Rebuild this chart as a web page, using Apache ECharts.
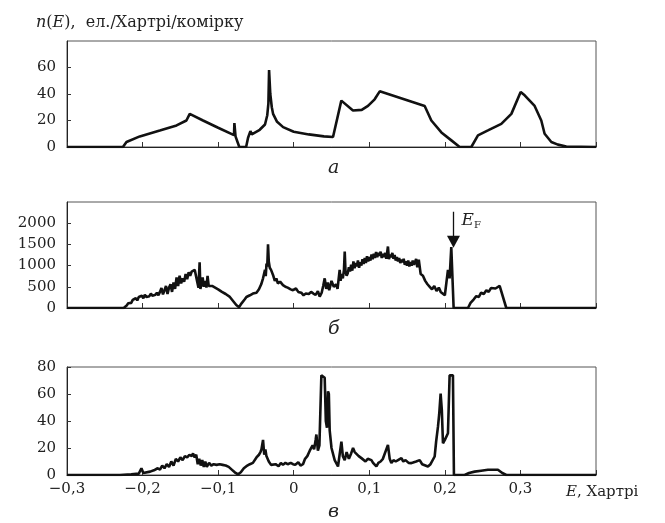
<!DOCTYPE html>
<html>
<head>
<meta charset="utf-8">
<script src="https://cdn.jsdelivr.net/npm/echarts@6/dist/echarts.min.js"></script>
<style>html,body{margin:0;padding:0;background:#fff}#c{width:665px;height:523px}</style>
</head>
<body>
<div id="c"></div>
<script>
// ---------- data ----------
const energyA = [-0.3,-0.226,-0.2213,-0.2037,-0.1772,-0.155,-0.142,-0.1376,-0.12,-0.1,-0.079,-0.0785,-0.077,-0.072,-0.063,-0.0604,-0.0585,-0.0573,-0.0555,-0.0538,-0.045,-0.038,-0.035,-0.0335,-0.0326,-0.031,-0.029,-0.0273,-0.022,-0.014,0,0.02,0.04,0.052,0.0529,0.063,0.0784,0.09,0.0983,0.1071,0.1138,0.1733,0.1821,0.1954,0.2086,0.2196,0.235,0.2438,0.257,0.2747,0.288,0.3003,0.3056,0.3188,0.3276,0.332,0.3409,0.3496,0.3607,0.4];
const dosA    = [0,0,3.8,8,12.5,16.3,20,25,20,14.5,9,18,8,0,0,7,7.5,12,9.5,9,13,17,24,33,58,40,30,25,19,15,11.5,9.5,8,7.5,7.5,35,27.5,28,31,36,42,31,20,11,5,0,0,8.8,12.5,17.5,25,41.5,39,31,20,10,3.8,1.8,0.4,0];

const energyB = [-0.3,-0.225,-0.221,-0.219,-0.217,-0.215,-0.213,-0.211,-0.209,-0.207,-0.205,-0.203,-0.201,-0.199,-0.197,-0.195,-0.193,-0.191,-0.189,-0.187,-0.185,-0.183,-0.181,-0.179,-0.177,-0.175,-0.173,-0.171,-0.169,-0.167,-0.165,-0.163,-0.161,-0.159,-0.157,-0.155,-0.153,-0.151,-0.149,-0.147,-0.145,-0.143,-0.141,-0.139,-0.137,-0.135,-0.133,-0.131,-0.129,-0.1275,-0.126,-0.1245,-0.1235,-0.122,-0.1205,-0.119,-0.117,-0.1155,-0.114,-0.1125,-0.111,-0.108,-0.104,-0.1,-0.095,-0.09,-0.085,-0.08,-0.076,-0.0724,-0.069,-0.065,-0.0626,-0.058,-0.054,-0.0493,-0.046,-0.043,-0.0406,-0.038,-0.037,-0.036,-0.035,-0.034,-0.033,-0.0317,-0.03,-0.027,-0.025,-0.023,-0.021,-0.018,-0.0142,-0.011,-0.008,-0.004,-0.001,0.003,0.006,0.01,0.013,0.016,0.02,0.023,0.026,0.029,0.032,0.0344,0.037,0.039,0.041,0.043,0.045,0.047,0.05,0.053,0.056,0.058,0.0608,0.062,0.0635,0.065,0.0665,0.0675,0.0685,0.07,0.0715,0.073,0.0745,0.076,0.0775,0.079,0.0805,0.082,0.0835,0.085,0.0865,0.088,0.0895,0.091,0.0925,0.094,0.0955,0.097,0.0985,0.1,0.1015,0.103,0.1045,0.106,0.1075,0.109,0.1105,0.112,0.1135,0.115,0.1165,0.118,0.1195,0.121,0.1225,0.1247,0.126,0.1275,0.129,0.1305,0.132,0.1335,0.135,0.1365,0.138,0.1395,0.141,0.1425,0.144,0.1455,0.147,0.1485,0.15,0.1515,0.153,0.1545,0.156,0.1575,0.159,0.1605,0.162,0.1635,0.1655,0.1667,0.168,0.171,0.174,0.177,0.18,0.183,0.186,0.189,0.192,0.1945,0.197,0.2,0.202,0.2041,0.2063,0.2085,0.2099,0.2116,0.2306,0.234,0.238,0.2416,0.245,0.248,0.2515,0.2549,0.258,0.261,0.2636,0.267,0.2725,0.2813,0.4];
const dosB    = [0,0,60,110,150,120,190,150,230,180,260,220,290,230,310,260,300,280,340,290,330,310,360,300,380,470,320,420,520,330,480,560,380,600,450,720,520,760,580,700,620,800,680,840,760,860,820,900,880,600,480,1080,450,580,720,500,640,480,760,520,560,520,480,440,380,330,270,160,70,20,110,200,260,300,340,360,440,560,700,900,750,1050,980,1500,1100,950,900,760,640,700,580,620,540,500,480,440,420,460,380,360,300,340,330,380,340,310,400,270,360,520,700,450,600,420,640,500,560,450,900,640,800,700,900,1330,880,760,820,960,860,1020,880,1100,940,1060,980,1120,950,1080,1000,1150,1040,1180,1060,1220,1100,1200,1120,1260,1150,1280,1180,1320,1200,1300,1230,1330,1180,1280,1200,1300,1160,1450,1150,1260,1200,1300,1160,1250,1120,1200,1100,1180,1060,1140,1080,1160,1020,1100,1000,1120,980,1080,1000,1120,1020,1080,1160,960,1140,1100,800,760,640,560,500,440,520,400,480,380,420,300,270,900,700,1440,1440,0,0,120,200,280,260,360,330,420,380,470,500,460,520,0,0];

const energyC = [-0.3,-0.23,-0.215,-0.205,-0.2015,-0.199,-0.19,-0.185,-0.18,-0.177,-0.174,-0.171,-0.168,-0.165,-0.162,-0.159,-0.156,-0.153,-0.15,-0.147,-0.144,-0.141,-0.138,-0.135,-0.1332,-0.131,-0.129,-0.127,-0.125,-0.123,-0.121,-0.119,-0.117,-0.115,-0.112,-0.109,-0.106,-0.102,-0.098,-0.094,-0.09,-0.086,-0.082,-0.078,-0.0737,-0.07,-0.066,-0.0626,-0.058,-0.054,-0.0493,-0.046,-0.044,-0.0427,-0.0406,-0.039,-0.0375,-0.0361,-0.033,-0.03,-0.0274,-0.024,-0.02,-0.017,-0.0142,-0.011,-0.008,-0.004,-0.0009,0.002,0.006,0.009,0.0123,0.015,0.018,0.0212,0.023,0.025,0.027,0.029,0.03,0.032,0.034,0.0366,0.039,0.041,0.0425,0.044,0.0454,0.0465,0.0476,0.05,0.0542,0.0586,0.0631,0.065,0.0675,0.07,0.073,0.076,0.0785,0.0807,0.083,0.086,0.0896,0.092,0.095,0.098,0.1028,0.105,0.1094,0.112,0.115,0.118,0.1247,0.127,0.1292,0.132,0.135,0.138,0.1425,0.145,0.148,0.152,0.1557,0.159,0.162,0.1667,0.17,0.1776,0.181,0.1865,0.1885,0.1909,0.1925,0.1944,0.196,0.1975,0.2,0.2041,0.2063,0.2107,0.212,0.2262,0.232,0.2394,0.248,0.257,0.2702,0.276,0.2813,0.4];
const dosC    = [0,0,0.5,1,5,1.5,2.5,3.5,5,4,7,5,8,6,10,7,12,10,13,11,14,13,15,14,16,13,15,8,12,7,11,6,10,6,9,7,8,7.5,8,7.5,7,6,4,2,0.5,2,5,6.5,8,9,13,15,17,19,26,15,19,14,10,7.5,6.5,8,6.5,9,7.5,9,8,9,8,7.5,9.5,7,8,12,14,18,17,22,19,26,30,18,22,73.8,73.8,72,40,35,62,60,33,20,11,6.3,24.7,14,11,17,12,16,20,17,16,14,12.5,13,10,12,11,9,6.3,9,10,12,22.3,12,8.8,11,10,11,12.5,10,11,9,8.8,9.5,10,11,8,6.3,8,13.7,25,35.8,45,60.3,48,23.5,26,30.9,73.8,73.8,0,0,1.5,2.5,3.2,3.9,3.9,1.5,0,0];

const xTicks = [-0.3,-0.2,-0.1,0,0.1,0.2,0.3];
const yMaxA = 80, yStepA = 20;
const yMaxB = 2500, yStepB = 500;
const yMaxC = 80, yStepC = 20;
const fermiE = 0.2114;
const fermiArrow = [2270, 1560];
const fermiLabel = [0.2215, 2054];

// ---------- chart ----------
const FONT = 'DejaVu Serif';
const pair = (E, N) => E.map((e, i) => [e, N[i]]);
const fmtX = v => {
  const r = Math.round(v * 10) / 10;
  if (r > xTicks[xTicks.length - 1] + 0.05) return '';
  if (r === 0) return '0';
  return (r < 0 ? '\u2212' : '') + Math.abs(r).toFixed(1).replace('.', ',');
};
const fmtY = v => String(Math.round(v));
const grids = [
  {left: 67, right: 69, top: 41, height: 106},
  {left: 67, right: 69, top: 202, height: 106},
  {left: 67, right: 69, top: 367, height: 108}
].map(g => Object.assign(g, {show: true, borderColor: '#555', borderWidth: 1, backgroundColor: 'transparent'}));

const xAxisBase = i => ({
  type: 'value', gridIndex: i, min: -0.3, max: 0.4, interval: 0.1,
  axisLine: {show: true, onZero: false, lineStyle: {color: '#222', width: 1.2}},
  axisTick: {show: true, inside: true, length: 5, lineStyle: {color: '#333'}},
  splitLine: {show: false},
  axisLabel: {show: i === 2, formatter: fmtX, color: '#222', fontFamily: FONT, fontSize: 15, margin: 7}
});
const yAxisBase = (i, max, step, showMax) => ({
  type: 'value', gridIndex: i, min: 0, max: max, interval: step,
  axisLine: {show: true, onZero: false, lineStyle: {color: '#222', width: 1}},
  axisTick: {show: true, inside: true, length: 4, lineStyle: {color: '#333'}},
  splitLine: {show: false},
  axisLabel: {color: '#222', fontFamily: FONT, fontSize: 15, margin: 11, showMaxLabel: showMax, formatter: fmtY}
});
const lineSeries = (i, data) => ({
  type: 'line', xAxisIndex: i, yAxisIndex: i, data: data, showSymbol: false, symbol: 'none',
  lineStyle: {color: '#111', width: 2.6}, z: 3, silent: true
});

const sB = lineSeries(1, pair(energyB, dosB));
sB.markLine = {
  silent: true, animation: false,
  symbol: ['none', 'triangle'], symbolSize: [13, 12],
  lineStyle: {color: '#111', width: 1.3, type: 'solid'},
  label: {show: false},
  data: [[{coord: [fermiE, fermiArrow[0]]}, {coord: [fermiE, fermiArrow[1]]}]]
};
sB.markPoint = {
  silent: true, animation: false, symbol: 'circle', symbolSize: 1,
  itemStyle: {color: 'rgba(0,0,0,0)'},
  label: {show: true, position: 'right', distance: 0, formatter: '{i|E}{s|F}',
    rich: {i: {fontFamily: FONT, fontStyle: 'italic', fontSize: 17, color: '#222'},
           s: {fontFamily: FONT, fontSize: 10, color: '#222', padding: [9, 0, 0, 0]}}},
  data: [{coord: fermiLabel}]
};

const option = {
  animation: false,
  backgroundColor: '#fff',
  grid: grids,
  xAxis: [xAxisBase(0), xAxisBase(1), xAxisBase(2)],
  yAxis: [yAxisBase(0, yMaxA, yStepA, false), yAxisBase(1, yMaxB, yStepB, false), yAxisBase(2, yMaxC, yStepC, true)],
  series: [lineSeries(0, pair(energyA, dosA)), sB, lineSeries(2, pair(energyC, dosC))],
  graphic: [
    {type: 'text', left: 36, top: 15, style: {text: '{i|n}({i|E}),  ел./Хартрі/комірку', fontFamily: FONT, fontSize: 16, fill: '#222',
      rich: {i: {fontFamily: FONT, fontStyle: 'italic', fontSize: 16}}}},
    {type: 'text', left: 328, top: 159, style: {text: 'а', fontFamily: FONT, fontStyle: 'italic', fontSize: 19, fill: '#222'}},
    {type: 'text', left: 328, top: 320, style: {text: 'б', fontFamily: FONT, fontStyle: 'italic', fontSize: 19, fill: '#222'}},
    {type: 'text', left: 328, top: 503, style: {text: 'в', fontFamily: FONT, fontStyle: 'italic', fontSize: 19, fill: '#222'}},
    {type: 'text', left: 566, top: 485, style: {text: '{i|E}, Хартрі', fontFamily: FONT, fontSize: 15, fill: '#222',
      rich: {i: {fontFamily: FONT, fontStyle: 'italic', fontSize: 15}}}}
  ]
};
const chart = echarts.init(document.getElementById('c'), null, {renderer: 'canvas'});
chart.setOption(option);
</script>
</body>
</html>
